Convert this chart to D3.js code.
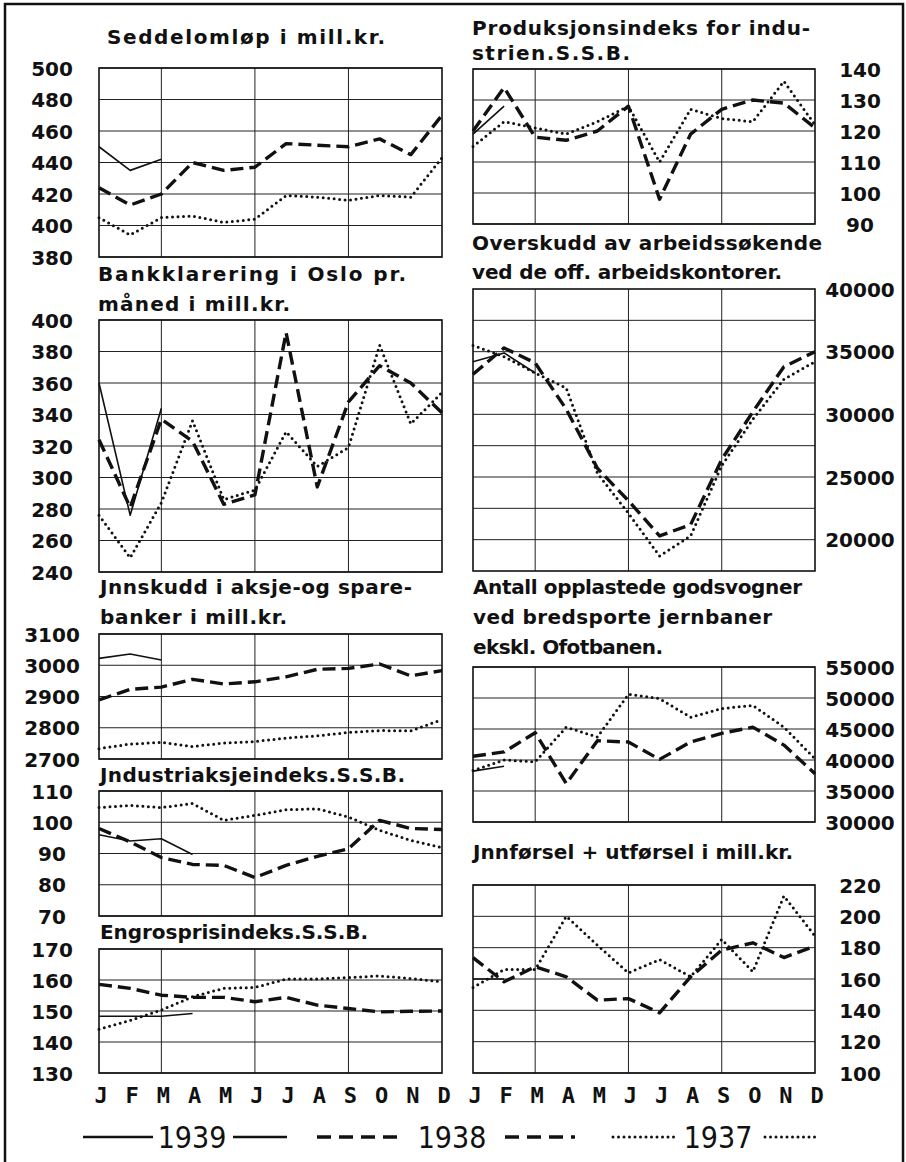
<!DOCTYPE html>
<html>
<head>
<meta charset="utf-8">
<script src="https://cdn.jsdelivr.net/npm/d3@7"></script>
<style>
  body { margin: 0; background: #fff; }
  svg { display: block; }
  .title { font-family: "DejaVu Sans", sans-serif; font-weight: bold; font-size: 20px; fill: #111; }
  .tick text { font-family: "DejaVu Sans", sans-serif; font-weight: bold; font-size: 20px; fill: #111; }
  .month { font-family: "DejaVu Sans Mono", monospace; font-weight: bold; font-size: 22px; fill: #111; }
  .legend { font-family: "DejaVu Sans Condensed", "DejaVu Sans", sans-serif; font-size: 30px; fill: #111; }
</style>
</head>
<body>
<svg id="chart" width="906" height="1162"></svg>
<script>
// month letters along the bottom
const months = ["J", "F", "M", "A", "M", "J", "J", "A", "S", "O", "N", "D"];
const years = ["1939", "1938", "1937"];

// Seddelomløp i mill.kr.
const seddel1939 = [450, 435, 442];
const seddel1938 = [424, 413, 420, 440, 435, 437, 452, 451, 450, 455, 445, 470];
const seddel1937 = [405, 394, 405, 406, 402, 404, 419, 418, 416, 419, 418, 443];
const seddelTicks = [500, 480, 460, 440, 420, 400, 380];

// Produksjonsindeks for industrien
const prod1939 = [119, 128];
const prod1938 = [120, 134, 118, 117, 120, 128, 98, 119, 127, 130, 129, 121];
const prod1937 = [115, 123, 121, 119, 123, 128, 110, 127, 124, 123, 136, 122];
const prodTicks = [140, 130, 120, 110, 100, 90];

// Bankklarering i Oslo
const bank1939 = [360, 276, 344];
const bank1938 = [324, 281, 337, 323, 283, 289, 392, 294, 348, 371, 360, 341];
const bank1937 = [276, 249, 284, 336, 286, 292, 329, 307, 319, 384, 334, 354];
const bankTicks = [400, 380, 360, 340, 320, 300, 280, 260, 240];

// Overskudd av arbeidssøkende
const unemp1939 = [34200, 34900, 33300];
const unemp1938 = [33200, 35300, 34100, 30400, 25700, 23100, 20300, 21200, 26400, 30200, 33800, 35000];
const unemp1937 = [35500, 34600, 33300, 32100, 25300, 22100, 18700, 20300, 25900, 29600, 32800, 34200];
const unempTicks = [40000, 35000, 30000, 25000, 20000];
const unempGrid = [37500, 35000, 32500, 30000, 27500, 25000, 22500, 20000];

// Innskudd i aksje- og sparebanker
const dep1939 = [3022, 3036, 3017];
const dep1938 = [2889, 2923, 2930, 2955, 2940, 2947, 2963, 2987, 2990, 3004, 2966, 2983];
const dep1937 = [2733, 2748, 2753, 2740, 2751, 2756, 2767, 2774, 2785, 2791, 2790, 2826];
const depTicks = [3100, 3000, 2900, 2800, 2700];

// Industriaksjeindeks
const share1939 = [96, 94, 94.7, 89.7];
const share1938 = [98, 93.7, 88.7, 86.5, 86.2, 82.3, 86.2, 89.1, 91.5, 100.6, 98, 97.7];
const share1937 = [104.7, 105.4, 104.7, 106, 100.6, 102.2, 104, 104.3, 101.7, 97.4, 94.2, 91.9];
const shareTicks = [110, 100, 90, 80, 70];

// Engrosprisindeks
const whole1939 = [148.3, 148.3, 148.3, 149.2];
const whole1938 = [158.6, 157.3, 155.1, 154.4, 154.4, 153, 154.4, 151.9, 150.8, 149.7, 149.9, 150];
const whole1937 = [144.1, 147, 150.3, 154.6, 157.3, 157.6, 160.3, 160.3, 160.8, 161.3, 160.5, 159.4];
const wholeTicks = [170, 160, 150, 140, 130];

// Antall opplastede godsvogner
const wagon1939 = [38200, 39000];
const wagon1938 = [40600, 41300, 44400, 36200, 43100, 42900, 40100, 42900, 44300, 45300, 42400, 37800];
const wagon1937 = [38300, 40000, 39700, 45300, 43700, 50600, 49900, 46900, 48300, 48800, 45300, 40200];
const wagonTicks = [55000, 50000, 45000, 40000, 35000, 30000];

// Innførsel + utførsel
const trade1939 = [160, 160];
const trade1938 = [173.7, 158.2, 167.8, 161.4, 146.5, 147.5, 138.4, 161.4, 178.4, 183.1, 173.7, 181];
const trade1937 = [154.5, 166, 166, 200, 181.6, 163.9, 172.4, 161.4, 185.3, 164.6, 213, 187.4];
const tradeTicks = [220, 200, 180, 160, 140, 120, 100];

const svg = d3.select("#chart");

// outer frame
svg.append("path")
  .attr("d", "M5,1162V4H903V1162")
  .attr("fill", "none")
  .attr("stroke", "#111")
  .attr("stroke-width", 2.5);

const leftX = [99, 442];
const rightX = [473, 815];

// layout of each small chart, titles are hand lettered so widths are fixed
const panels = [
  { side: "left", top: 68, bottom: 257, ticks: seddelTicks, grid: seddelTicks,
    title: ["Seddelomløp i mill.kr."], titleX: 107, titleY: [44], titleW: [278],
    series: [seddel1939, seddel1938, seddel1937] },
  { side: "right", top: 69, bottom: 224, ticks: prodTicks, grid: prodTicks,
    title: ["Produksjonsindeks for indu-", "strien.S.S.B."], titleX: 472, titleY: [35, 60], titleW: [338, 158],
    series: [prod1939, prod1938, prod1937] },
  { side: "left", top: 320, bottom: 572, ticks: bankTicks, grid: bankTicks,
    title: ["Bankklarering i Oslo pr.", "måned i mill.kr."], titleX: 98, titleY: [281, 311], titleW: [308, 192],
    series: [bank1939, bank1938, bank1937] },
  { side: "right", top: 289, bottom: 571, ticks: unempTicks, grid: unempGrid, domain: [17500, 40000],
    title: ["Overskudd av arbeidssøkende", "ved de off. arbeidskontorer."], titleX: 472, titleY: [250, 279], titleW: [350, 310],
    series: [unemp1939, unemp1938, unemp1937] },
  { side: "left", top: 634, bottom: 759, ticks: depTicks, grid: depTicks,
    title: ["Jnnskudd i aksje-og spare-", "banker i mill.kr."], titleX: 100, titleY: [594, 624], titleW: [312, 187],
    series: [dep1939, dep1938, dep1937] },
  { side: "left", top: 791, bottom: 916, ticks: shareTicks, grid: shareTicks,
    title: ["Jndustriaksjeindeks.S.S.B."], titleX: 100, titleY: [782], titleW: [305],
    series: [share1939, share1938, share1937] },
  { side: "left", top: 949, bottom: 1073, ticks: wholeTicks, grid: wholeTicks,
    title: ["Engrosprisindeks.S.S.B."], titleX: 100, titleY: [939], titleW: [268],
    series: [whole1939, whole1938, whole1937] },
  { side: "right", top: 667, bottom: 822, ticks: wagonTicks, grid: wagonTicks,
    title: ["Antall opplastede godsvogner", "ved bredsporte jernbaner", "ekskl. Ofotbanen."], titleX: 473, titleY: [594, 624, 654], titleW: [329, 299, 190],
    series: [wagon1939, wagon1938, wagon1937] },
  { side: "right", top: 885, bottom: 1073, ticks: tradeTicks, grid: tradeTicks,
    title: ["Jnnførsel + utførsel i mill.kr."], titleX: 473, titleY: [859], titleW: [320],
    series: [trade1939, trade1938, trade1937] }
];

// line styles per year: solid, dashed, dotted
const styles = [
  { width: 1.6, dash: null, cap: "butt" },
  { width: 3.4, dash: "13,6", cap: "butt" },
  { width: 3, dash: "0,5.5", cap: "round" }
];

panels.forEach(function (p) {
  const xr = p.side == "left" ? leftX : rightX;
  const x = d3.scaleLinear().domain([0, 11]).range(xr);
  const dom = p.domain || d3.extent(p.ticks);
  const y = d3.scaleLinear().domain(dom).range([p.bottom, p.top]);
  const g = svg.append("g");

  // horizontal grid
  g.selectAll("line.h")
    .data(p.grid)
    .join("line")
    .attr("x1", xr[0]).attr("x2", xr[1])
    .attr("y1", d => y(d)).attr("y2", d => y(d))
    .attr("stroke", "#222").attr("stroke-width", 1);

  // vertical grid at M, J, S
  g.selectAll("line.v")
    .data([2, 5, 8])
    .join("line")
    .attr("x1", d => x(d)).attr("x2", d => x(d))
    .attr("y1", p.top).attr("y2", p.bottom)
    .attr("stroke", "#222").attr("stroke-width", 1);

  g.append("rect")
    .attr("x", xr[0]).attr("y", p.top)
    .attr("width", xr[1] - xr[0]).attr("height", p.bottom - p.top)
    .attr("fill", "none").attr("stroke", "#111").attr("stroke-width", 1.6);

  // tick labels
  const axis = (p.side == "left" ? d3.axisLeft(y) : d3.axisRight(y))
    .tickValues(p.ticks).tickSize(0).tickFormat(d3.format("d"));
  const ax = g.append("g")
    .attr("transform", "translate(" + (p.side == "left" ? 52 : 860) + ",0)")
    .call(axis);
  ax.select(".domain").remove();
  ax.selectAll("text").attr("x", 0).attr("text-anchor", "middle").attr("dy", "0.36em");

  // title
  p.title.forEach(function (t, i) {
    g.append("text").attr("class", "title")
      .attr("x", p.titleX).attr("y", p.titleY[i])
      .attr("textLength", p.titleW[i])
      .attr("lengthAdjust", "spacing")
      .text(t);
  });

  const line = d3.line().x((d, i) => x(i)).y(d => y(d));
  p.series.forEach(function (s, k) {
    const st = styles[k];
    g.append("path")
      .datum(s)
      .attr("d", line)
      .attr("fill", "none")
      .attr("stroke", "#111")
      .attr("stroke-width", st.width)
      .attr("stroke-dasharray", st.dash)
      .attr("stroke-linecap", st.cap)
      .attr("stroke-linejoin", "round");
  });
});

// month labels
[leftX, rightX].forEach(function (xr) {
  const x = d3.scaleLinear().domain([0, 11]).range(xr);
  svg.append("g").selectAll("text")
    .data(months)
    .join("text")
    .attr("class", "month")
    .attr("x", (d, i) => x(i) + 2)
    .attr("y", 1103)
    .attr("text-anchor", "middle")
    .text(d => d);
});

// legend
const legY = 1137;
const legend = [
  { year: years[0], a: [83, 153], tx: 192, b: [233, 287] },
  { year: years[1], a: [317, 397], tx: 452, b: [505, 575] },
  { year: years[2], a: [613, 677], tx: 718, b: [765, 818] }
];
legend.forEach(function (l, k) {
  const st = styles[k];
  [l.a, l.b].forEach(function (seg) {
    svg.append("line")
      .attr("x1", seg[0]).attr("x2", seg[1])
      .attr("y1", legY).attr("y2", legY)
      .attr("stroke", "#111")
      .attr("stroke-width", k == 0 ? 2.5 : st.width)
      .attr("stroke-dasharray", k == 1 ? "14,8" : st.dash)
      .attr("stroke-linecap", st.cap);
  });
  svg.append("text").attr("class", "legend")
    .attr("x", l.tx).attr("y", legY + 11)
    .attr("text-anchor", "middle")
    .text(l.year);
});
</script>
</body>
</html>
